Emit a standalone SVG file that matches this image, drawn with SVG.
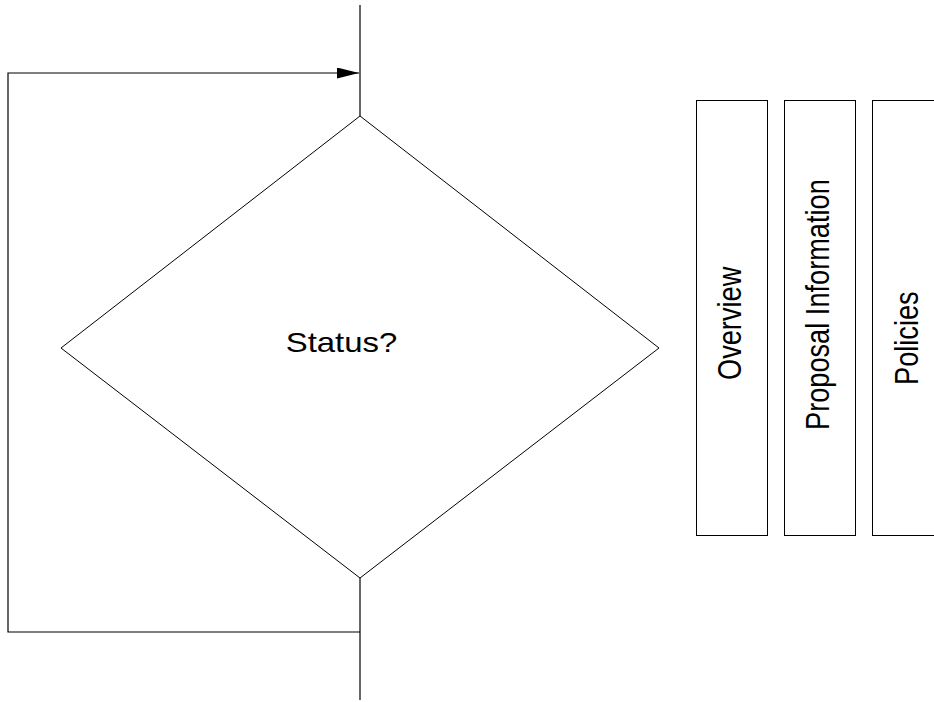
<svg xmlns="http://www.w3.org/2000/svg" width="934" height="702" viewBox="0 0 934 702">
  <style>
    .shape { fill: #ffffff; stroke: #000000; stroke-width: 1; }
    .wire { fill: none; stroke: #000000; stroke-width: 1.2; }
    .label { font-family: "Liberation Sans", Arial, sans-serif; fill: #000000; }
    .tab { font-size: 34px; }
  </style>
  <defs>
    <marker id="arrow" viewBox="0 0 22 11" refX="22" refY="5.5" markerWidth="22" markerHeight="11" markerUnits="userSpaceOnUse" orient="auto">
      <path d="M0,0 L22,5.5 L0,11 Z" fill="#000000"/>
    </marker>
  </defs>

  <g id="connectors">
    <line class="wire" x1="360" y1="5" x2="360" y2="116"/>
    <line class="wire" x1="360" y1="578" x2="360" y2="700"/>
    <polyline class="wire" points="360,632 8,632 8,73 359,73" marker-end="url(#arrow)"/>
  </g>

  <g id="status">
    <polygon class="shape" points="360,116 659,348 360,578 61,348"/>
    <text class="label" transform="translate(341.5 352) scale(1.22 1)" font-size="27" text-anchor="middle">Status?</text>
  </g>

  <!-- side tabs: vertical labels, condensed -->
  <g id="overview">
    <rect class="shape" x="696.5" y="100.5" width="71" height="435"/>
    <text class="label tab" transform="translate(741 380) rotate(-90) scale(0.8 1)">Overview</text>
  </g>

  <g id="proposal-information">
    <rect class="shape" x="784.5" y="100.5" width="71" height="435"/>
    <text class="label tab" transform="translate(829 430) rotate(-90) scale(0.8 1)">Proposal Information</text>
  </g>

  <g id="policies">
    <rect class="shape" x="872.5" y="100.5" width="71" height="435"/>
    <text class="label tab" transform="translate(918 385) rotate(-90) scale(0.8 1)">Policies</text>
  </g>
</svg>
